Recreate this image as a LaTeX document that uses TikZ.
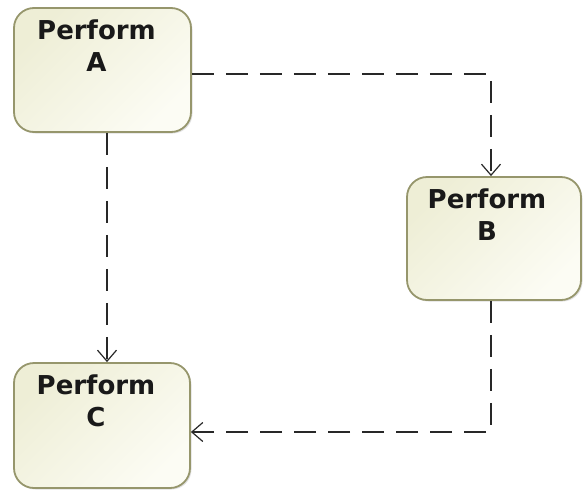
\documentclass[tikz,border=0pt]{standalone}
\usepackage{fontspec}
\setmainfont{DejaVu Sans}
\usetikzlibrary{arrows.meta,shadows}
\definecolor{boxedge}{RGB}{150,150,108}
\definecolor{boxdark}{RGB}{238,238,214}
\definecolor{boxlight}{RGB}{252,252,244}
\definecolor{flowline}{RGB}{40,40,40}
\tikzset{
  actionbox/.style={draw=boxedge, line width=1.8pt, rounded corners=20pt,
    top color=boxdark, bottom color=boxlight, shading angle=45,
    drop shadow={shadow xshift=1.5pt, shadow yshift=-1.5pt, opacity=0.25},
    inner sep=0pt},
  boxlabel/.style={anchor=north, align=center, inner sep=0pt,
    font=\fontsize{26}{32}\selectfont\bfseries, text=black!90},
  flow/.style={draw=flowline, line width=1.3pt, dash pattern=on 22pt off 12pt,
    -{Straight Barb[length=11pt,width=19pt,line width=1.2pt]}}
}
\begin{document}
\begin{tikzpicture}[x=1pt,y=-1pt]
  \useasboundingbox (0,0) rectangle (583,493);
  % action boxes
  \node[actionbox, minimum width=177pt, minimum height=124pt] (a) at (102.5,70) {};
  \node[actionbox, minimum width=174pt, minimum height=123pt] (b) at (494,238.5) {};
  \node[actionbox, minimum width=176pt, minimum height=125pt] (c) at (102,425.5) {};
  % labels
  \node[boxlabel] (at) at ([xshift=-6pt,yshift=-12pt]a.north) {Perform\\A};
  \node[boxlabel] (bt) at ([xshift=-7pt,yshift=-12pt]b.north) {Perform\\B};
  \node[boxlabel] (ct) at ([xshift=-6pt,yshift=-12pt]c.north) {Perform\\C};
  % control flows
  \draw[flow] ([yshift=-4pt]a.east) -| ([xshift=-3pt]b.north);
  \draw[flow] ([xshift=4.5pt]a.south) -- ([xshift=5pt]c.north);
  \draw[flow] ([xshift=-3pt]b.south) |- ([yshift=-6.5pt]c.east);
\end{tikzpicture}
\end{document}
